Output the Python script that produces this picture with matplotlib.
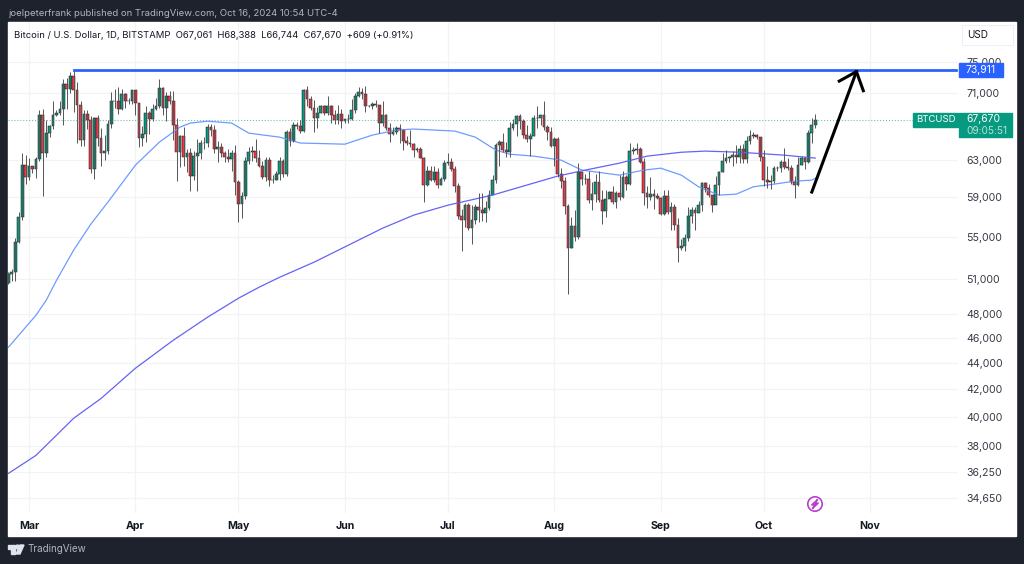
import pandas as pd
import matplotlib.pyplot as plt

plt.rcParams['font.family'] = 'Inter'

# Daily closes from 2024-02-24 to 2024-10-16
closes = [
    51500, 51700, 54500, 57000, 62500, 61200, 62400, 62000, 63100, 68300,
    63800, 66100, 66900, 68300, 68500, 69000, 72100, 71500, 73100, 71400,
    69500, 65300, 68400, 67600, 62000, 67900, 65500, 63800, 64000, 67200,
    70000, 69900, 69000, 70800, 70000, 69900, 71300, 69700, 65500, 66000,
    68500, 67800, 69000, 69400, 71600, 69100, 70600, 70000, 67100, 63900,
    65700, 63400, 63800, 61300, 63500, 63800, 64950, 64950, 66800, 66400,
    64300, 64500, 63800, 63400, 63100, 63800, 60600, 58300, 59100, 62900,
    63900, 64000, 63200, 62300, 61200, 63000, 60800, 60800, 61500, 62900,
    61500, 66200, 65200, 67000, 66900, 66300, 71400, 70200, 69100, 67900,
    68500, 69300, 68500, 69400, 68300, 67600, 68350, 67500, 67750, 67750,
    68800, 70550, 71100, 70800, 69350, 69300, 69650, 69500, 67300, 68250,
    66750, 66000, 66200, 66650, 66500, 65150, 64950, 64850, 64100, 64250,
    63200, 60300, 61800, 60850, 61650, 60300, 60950, 62700, 62850, 62000,
    60200, 57050, 56650, 58200, 55850, 56700, 58000, 57700, 57350, 57900,
    59200, 60800, 64700, 65050, 64100, 63950, 66700, 67150, 68150, 67550,
    65900, 65350, 65800, 67900, 67900, 68250, 66800, 66200, 64600, 65350,
    61450, 60700, 58100, 53950, 56050, 55000, 61700, 60900, 60900, 58700,
    59350, 60600, 58700, 57550, 58850, 59500, 58450, 59450, 59000, 61150,
    60400, 64050, 64150, 64250, 62850, 59450, 59050, 59350, 59100, 58950,
    57300, 59100, 57500, 57950, 56150, 53950, 54150, 54850, 57050, 57650,
    57350, 58150, 60550, 60000, 59200, 58200, 60300, 61650, 62950, 63200,
    63350, 63600, 63350, 64300, 63150, 65200, 65800, 65900, 65600, 63350,
    60800, 60650, 60750, 62100, 62100, 62800, 62200, 62150, 60600, 60300,
    62500, 63200, 62850, 66050, 67061, 67670,
]
highs = [
    51700, 51950, 54900, 57500, 63800, 63600, 63200, 62400, 63300, 68800,
    69000, 67600, 67000, 69900, 68900, 70000, 72800, 72900, 73700, 73911,
    72400, 70000, 68900, 68900, 68100, 68000, 68200, 66700, 65900, 67600,
    71100, 71500, 71700, 71500, 70900, 70300, 71400, 71300, 69700, 66900,
    69300, 68700, 69600, 70300, 72700, 71700, 71100, 71200, 71200, 67900,
    65900, 66800, 64300, 64400, 64000, 65400, 65300, 65600, 67200, 67200,
    67100, 65200, 65000, 64000, 64300, 64200, 64700, 60800, 59500, 63300,
    64500, 64600, 65400, 64200, 62900, 63400, 63400, 61400, 61800, 63400,
    63100, 66500, 66700, 67400, 67400, 67700, 71500, 71900, 70600, 70100,
    69200, 69500, 69500, 70600, 69500, 68900, 69500, 69000, 67800, 68400,
    70200, 71000, 71700, 71600, 71900, 69500, 69800, 70100, 69500, 70000,
    68400, 67300, 66800, 66900, 67200, 66600, 65700, 66400, 65000, 64500,
    64500, 63300, 62300, 62400, 62300, 62100, 61100, 63000, 63800, 63200,
    62300, 60500, 57800, 58400, 58400, 58200, 58300, 59400, 59400, 58600,
    59800, 61400, 65000, 65300, 66100, 65100, 67400, 67800, 68300, 68400,
    67800, 67100, 66100, 68200, 69400, 68300, 70000, 67000, 66800, 65600,
    65600, 62100, 61100, 58300, 57000, 57700, 62700, 61700, 61500, 61800,
    60600, 61500, 61800, 59800, 59800, 59700, 60200, 59600, 61400, 61800,
    61400, 64900, 64500, 65000, 64500, 63200, 60200, 61100, 59900, 59400,
    59000, 59800, 59800, 58500, 58300, 56900, 54800, 55300, 58000, 58000,
    58000, 58600, 60600, 60600, 60400, 59200, 61300, 61800, 63800, 64100,
    63500, 64000, 64700, 64700, 64800, 65800, 66500, 66200, 66000, 65600,
    64100, 62400, 61400, 62400, 62400, 63000, 64400, 63200, 62500, 61300,
    63400, 63500, 63300, 66500, 67900, 68388,
]
lows = [
    50600, 50900, 50900, 54400, 56700, 60400, 60800, 61600, 61000, 62900,
    59100, 63300, 65600, 66600, 68100, 68200, 67000, 69000, 71000, 68600,
    65000, 64600, 64600, 66600, 61600, 60900, 64600, 62300, 63000, 63700,
    66700, 69100, 68400, 68900, 69100, 69600, 69600, 68200, 64500, 64600,
    65100, 66000, 67500, 68800, 69100, 68200, 67500, 69600, 65300, 60700,
    62200, 62400, 61700, 59700, 60800, 59600, 63100, 64300, 64500, 65800,
    63800, 62800, 63300, 62800, 62800, 61800, 59200, 56500, 56900, 58800,
    62600, 62900, 62800, 62200, 60900, 60700, 60200, 60500, 60800, 60800,
    61100, 61300, 64600, 65100, 66600, 66100, 66200, 69300, 68900, 66200,
    66700, 68500, 68300, 68300, 67300, 67200, 67200, 66700, 67300, 67300,
    67700, 68500, 70400, 70200, 68600, 69200, 69000, 69200, 66100, 66900,
    66400, 65100, 65900, 66000, 64900, 64200, 64700, 64500, 63400, 63900,
    63200, 58500, 60200, 60700, 60600, 60000, 60300, 60700, 62500, 61800,
    59500, 56800, 53600, 56000, 55700, 54300, 56300, 56500, 56600, 56500,
    57700, 59500, 60500, 62400, 63900, 63400, 63300, 66500, 65800, 66600,
    65500, 65100, 63500, 65800, 66700, 67100, 66500, 65300, 64500, 62300,
    61100, 60000, 57300, 49700, 53900, 54600, 54800, 60300, 60400, 58400,
    57700, 58500, 58500, 56300, 57000, 58900, 58300, 57900, 58700, 58900,
    59800, 60300, 63700, 63700, 62700, 58200, 57900, 58700, 57800, 58800,
    57200, 57200, 57300, 55700, 55700, 52600, 53700, 53600, 54600, 56400,
    55700, 57500, 57600, 59500, 59000, 57500, 58400, 59200, 61700, 62700,
    62800, 62400, 62700, 62700, 62700, 62700, 64800, 65500, 65400, 62900,
    60200, 60000, 59900, 60500, 61800, 61700, 62000, 61900, 60400, 58900,
    60200, 62500, 62000, 62700, 64900, 66744,
]
opens = [50700] + closes[:-1]

# The two moving averages, read at these dates
ma_short_dates = [
    '2024-02-24', '2024-02-27', '2024-03-03', '2024-03-06', '2024-03-09', '2024-03-14', '2024-03-19', '2024-03-24',
    '2024-04-01', '2024-04-08', '2024-04-14', '2024-04-17', '2024-04-22', '2024-04-29',
    '2024-05-04', '2024-05-13', '2024-05-19', '2024-06-01', '2024-06-09', '2024-06-16',
    '2024-06-21', '2024-07-03', '2024-07-09', '2024-07-15', '2024-07-19', '2024-07-26',
    '2024-08-03', '2024-08-09', '2024-08-20', '2024-08-27', '2024-09-01', '2024-09-07',
    '2024-09-12', '2024-09-18', '2024-09-23', '2024-09-28', '2024-10-04', '2024-10-10',
    '2024-10-15', '2024-10-16',
]
ma_short = [
    45230, 46200, 47860, 49150, 50920, 53720, 56250, 58500,
    62450, 65050, 66800, 67280, 67500, 67280,
    66090, 65620, 64940, 64810, 65860, 66450,
    66570, 66330, 65620, 64130, 63670, 63450,
    63000, 61900, 61350, 61900, 62110, 61350,
    60100, 59220, 59320, 60100, 60380, 60700,
    60810, 61020,
]
ma_long_dates = [
    '2024-02-24', '2024-03-03', '2024-03-14', '2024-03-22', '2024-04-01', '2024-04-12',
    '2024-04-22', '2024-05-01', '2024-05-07', '2024-05-13', '2024-05-23', '2024-06-02',
    '2024-06-12', '2024-06-21', '2024-07-01', '2024-07-14', '2024-08-02', '2024-08-10',
    '2024-08-20', '2024-08-28', '2024-09-07', '2024-09-14', '2024-09-24', '2024-10-07',
    '2024-10-16',
]
ma_long = [
    36170, 37340, 39880, 41310, 43580, 45790,
    47700, 49330, 50300, 51200, 52580, 54190,
    55850, 57150, 58170, 59220, 61250, 61900,
    62670, 63450, 63890, 64020, 63890, 63560,
    63230,
]

price_ticks = [75000, 71000, 63000, 59000, 55000, 51000, 48000, 46000, 44000, 42000, 40000, 38000, 36250, 34650]
month_ticks = ['2024-03-01', '2024-04-01', '2024-05-01', '2024-06-01', '2024-07-01', '2024-08-01', '2024-09-01', '2024-10-01', '2024-11-01']
month_labels = ['Mar', 'Apr', 'May', 'Jun', 'Jul', 'Aug', 'Sep', 'Oct', 'Nov']

# Convert to DataFrame for easier plotting
df = pd.DataFrame({'Open': opens, 'High': highs, 'Low': lows, 'Close': closes},
                  index=pd.date_range('2024-02-24', periods=len(closes)))
up = df[df['Close'] >= df['Open']]
down = df[df['Close'] < df['Open']]

# Dark frame with the white chart panel on it
plt.figure(figsize=(10.24, 5.64), dpi=100, facecolor='#1e222d')
plt.gcf().add_artist(plt.Rectangle((8 / 1024, 1 - 536 / 564), 1008 / 1024, 514 / 564, color='white', zorder=-1))

# Create the candlestick chart
plt.axes([8 / 1024, 1 - 513 / 564, 950 / 1024, 491 / 564], facecolor='none')
plt.yscale('log')
plt.grid(color='#f2f3f5', linewidth=0.9)
plt.gca().set_axisbelow(True)
plt.axhline(67670, color='#089981', linestyle=':', linewidth=0.8, alpha=0.6)
plt.plot(pd.to_datetime(ma_short_dates), ma_short, color='#6f9bff', linewidth=0.9)
plt.plot(pd.to_datetime(ma_long_dates), ma_long, color='#6464f5', linewidth=0.9)
plt.vlines(df.index, df['Low'], df['High'], color='#555555', linewidth=0.7)
plt.bar(up.index, up['Close'] - up['Open'], bottom=up['Open'], width=0.8, color='#089981', edgecolor='#111111', linewidth=0.35)
plt.bar(down.index, down['Open'] - down['Close'], bottom=down['Close'], width=0.8, color='#f23645', edgecolor='#111111', linewidth=0.35)

# Resistance line and the hand drawn arrow
plt.plot(pd.to_datetime(['2024-03-14', '2024-11-26']), [73911, 73911], color='#2962ff', linewidth=2)
plt.plot(pd.to_datetime(['2024-10-15', '2024-10-28']), [59540, 73700], color='black', linewidth=2.2)
plt.plot(pd.to_datetime(['2024-10-23', '2024-10-28', '2024-10-30']), [72470, 73700, 71250], color='black', linewidth=2.2)

plt.ylim(33720, 80470)
plt.xlim(pd.Timestamp('2024-02-23 21:00'), pd.Timestamp('2024-11-26 14:00'))
plt.gca().yaxis.tick_right()
plt.yticks(price_ticks, [f'{p:,}' for p in price_ticks], fontsize=7.6, color='#363a45')
plt.minorticks_off()
plt.xticks(pd.to_datetime(month_ticks), month_labels, fontsize=7.6, fontweight='bold', color='#131722')
plt.tick_params(length=0)
plt.tick_params(axis='y', pad=6)
plt.tick_params(axis='x', pad=6)
for spine in plt.gca().spines.values():
    spine.set_visible(False)

# Everything else sits on top, in pixels of the picture
plt.axes([0, 0, 1, 1], facecolor='none')
plt.xlim(0, 1024)
plt.ylim(564, 0)
plt.axis('off')
plt.text(8, 14, 'joelpeterfrank published on TradingView.com, Oct 16, 2024 10:54 UTC-4', fontsize=6.85, color='#b2b5be', va='center')
plt.text(14, 35.5, 'Bitcoin / U.S. Dollar, 1D, BITSTAMP  O67,061  H68,388  L66,744  C67,670  +609 (+0.91%)', fontsize=6.8, color='#131722', va='center')
plt.text(27, 549, 'TradingView', fontsize=7.1, color='#b2b5be', va='center')

# TradingView logo
plt.gca().add_patch(plt.Polygon([(8, 545), (15, 545), (15, 554), (11, 554), (11, 549), (8, 549)], color='#e0e3eb'))
plt.gca().add_patch(plt.Circle((17.5, 547), 1.9, color='#e0e3eb'))
plt.gca().add_patch(plt.Polygon([(20, 545), (24, 545), (20, 554), (16, 554)], color='#e0e3eb'))

# Currency button
plt.gca().add_patch(plt.Rectangle((962, 25), 51, 20, facecolor='white', edgecolor='#eeeff2', linewidth=0.8))
plt.text(978, 35, 'USD', fontsize=7.2, color='#131722', ha='center', va='center')

# Price labels
plt.gca().add_patch(plt.Rectangle((959, 63), 44, 13.5, color='#2962ff'))
plt.text(981, 69.8, '73,911', fontsize=7.5, color='white', ha='center', va='center')
plt.gca().add_patch(plt.Rectangle((913, 113), 45, 13.5, color='#089981'))
plt.text(935.5, 119.8, 'BTCUSD', fontsize=6.9, color='white', ha='center', va='center')
plt.gca().add_patch(plt.Rectangle((959, 113), 53, 24, color='#089981'))
plt.text(966, 119.5, '67,670', fontsize=7.5, color='white', va='center')
plt.text(966, 130.5, '09:05:51', fontsize=7.3, color='#b5e0d6', va='center')

# Lightning badge
plt.gca().add_patch(plt.Circle((815, 504), 7.2, facecolor='white', edgecolor='#b83fcf', linewidth=1.2))
plt.gca().add_patch(plt.Polygon([(817.5, 499.5), (811.5, 505), (814.5, 505), (812.5, 508.5), (818.5, 503), (815.5, 503)], color='#b83fcf'))

plt.savefig('out.png', dpi=100, facecolor=plt.gcf().get_facecolor())
